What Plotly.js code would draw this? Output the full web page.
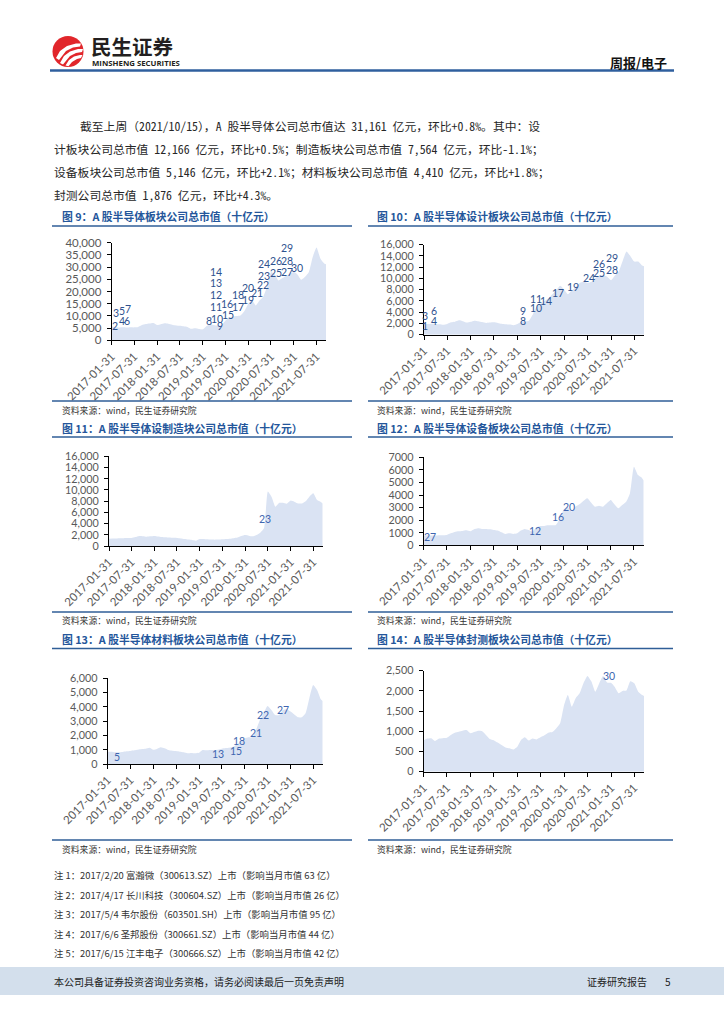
<!DOCTYPE html>
<html><head><meta charset="utf-8">
<script src="https://cdn.plot.ly/plotly-3.0.1.min.js"></script>
<style>html,body{margin:0;padding:0;background:#fff;} #page{width:724px;height:1024px;}</style>
</head><body><div id="page"></div>
<script>
// ---------- data ----------
const dates = [
 '2017-01-31','2017-02-28','2017-03-31','2017-04-30','2017-05-31','2017-06-30','2017-07-31','2017-08-31','2017-09-30','2017-10-31','2017-11-30','2017-12-31',
 '2018-01-31','2018-02-28','2018-03-31','2018-04-30','2018-05-31','2018-06-30','2018-07-31','2018-08-31','2018-09-30','2018-10-31','2018-11-30','2018-12-31',
 '2019-01-31','2019-02-28','2019-03-31','2019-04-30','2019-05-31','2019-06-30','2019-07-31','2019-08-31','2019-09-30','2019-10-31','2019-11-30','2019-12-31',
 '2020-01-31','2020-02-29','2020-03-31','2020-04-30','2020-05-31','2020-06-30','2020-07-31','2020-08-31','2020-09-30','2020-10-31','2020-11-30','2020-12-31',
 '2021-01-31','2021-02-28','2021-03-31','2021-04-30','2021-05-31','2021-06-30','2021-07-31','2021-08-31','2021-09-30','2021-10-15'];

const tickDates = ['2017-01-31','2017-07-31','2018-01-31','2018-07-31','2019-01-31','2019-07-31','2020-01-31','2020-07-31','2021-01-31','2021-07-31'];

const totalMV = [5800,5400,5200,5300,5200,5300,5300,5500,6300,6700,6900,7100,
 6300,6600,7000,6800,6400,6100,6000,5800,5500,4700,4900,4600,
 4500,5800,6500,6300,6000,6200,8000,9300,9800,10000,10200,12000,
 15000,16500,14300,16300,18000,22000,28000,27000,24500,25500,26500,27300,
 28000,27000,24800,26000,28000,34000,38000,33500,31500,31161];
const designMV = [2000,1900,1950,1900,1850,1750,1900,2200,2300,2550,2400,2150,
 2300,2500,2400,2250,2100,2150,2200,2100,1950,1850,1800,1700,
 1900,2250,2400,2500,3600,5000,5500,6000,6500,7200,7900,8700,
 8000,7200,7900,8500,9200,9400,9200,9400,10100,10500,10600,10300,
 9700,10500,11200,13000,14800,14000,13000,13000,12300,12166];
const mfgMV = [1300,1320,1350,1380,1400,1420,1430,1600,1800,1750,1670,1720,
 1800,1700,1600,1550,1500,1450,1430,1350,1250,1150,1070,950,
 1250,1250,1200,1150,1130,1150,1200,1250,1300,1400,1500,1800,
 1960,1850,1730,1960,2380,3150,9700,8700,7000,7700,7700,7550,
 8100,7900,7600,7600,8000,8800,9400,8200,7850,7564];
const equipMV = [740,800,780,770,790,800,820,950,1060,1110,1140,1190,
 1110,1270,1350,1300,1300,1270,1220,1170,1030,900,950,900,
 950,1170,1300,1220,1090,1430,1540,1540,1590,1590,1620,2150,
 2860,3020,2680,3070,3260,3520,3740,3390,3070,3150,3070,3340,
 3600,3260,2940,3200,3470,4150,6250,5590,5380,5146];
const materialMV = [860,860,820,820,840,890,910,960,1000,1050,1070,1140,
 1000,1050,1170,1100,980,930,910,860,820,750,770,750,
 790,980,960,980,980,1000,1070,1120,1140,1210,1380,1560,
 1800,1870,1870,2380,3080,3550,4060,3780,3430,3430,3780,3830,
 3670,3480,3270,3270,3550,4600,5530,5180,4530,4410];
const packMV = [780,820,830,760,820,830,840,910,965,990,1015,1030,
 950,980,1015,1005,910,810,780,720,660,600,580,550,
 620,780,850,770,820,800,850,900,965,980,1070,1200,
 1650,1900,1610,1820,1940,2190,2370,2230,1980,2190,2370,2210,
 2200,2100,1940,2000,2010,2240,2190,1980,1900,1876];

// note-number labels on each chart
const lab9Text  = ['1','2','3','5','7','4','6','8','10','9','11','12','13','14','15','16','17','18','19','20','21','22','23','24','25','26','27','28','29','30'];
const lab9Date  = ['2017-01-19','2017-02-26','2017-03-03','2017-04-24','2017-06-12','2017-04-24','2017-06-06','2019-03-18','2019-05-27','2019-06-21','2019-05-18','2019-05-18','2019-05-18','2019-05-18','2019-08-21','2019-08-15','2019-11-06','2019-11-06','2020-01-31','2020-01-31','2020-04-12','2020-05-28','2020-06-03','2020-06-03','2020-09-06','2020-09-06','2020-12-09','2020-12-09','2020-12-09','2021-02-28'];
const lab9Value = [6550,5870,11330,12150,12830,7920,8050,7920,8870,5870,13500,18430,23480,28120,10240,14880,13650,18430,16520,21290,19380,22800,26340,31120,27710,32490,27980,32620,37670,29620];

const lab10Text  = ['1','3','6','4','9','8','11','10','14','17','19','24','26','25','29','28'];
const lab10Date  = ['2017-02-09','2017-02-09','2017-04-21','2017-04-18','2019-03-12','2019-03-12','2019-06-21','2019-06-21','2019-09-12','2019-12-12','2020-04-12','2020-08-12','2020-10-27','2020-10-27','2021-02-04','2021-02-04'];
const lab10Value = [1540,3300,4270,2490,4270,2490,6280,4800,5990,7350,8530,10130,12500,10900,13700,11500];

const lab11Text = ['23'];
const lab11Date = ['2020-07-06'];
const lab11Value = [4760];

const lab12Text = ['27','12','16','20'];
const lab12Date = ['2017-03-22','2019-06-21','2019-12-15','2020-03-12'];
const lab12Value = [690,1170,2230,3070];

const lab13Text = ['5','13','15','18','21','22','27'];
const lab13Date = ['2017-04-18','2019-06-30','2019-11-21','2019-12-18','2020-04-30','2020-06-25','2020-11-30'];
const lab13Value = [510,700,910,1630,2150,3430,3780];

const lab14Text = ['30'];
const lab14Date = ['2021-01-12'];
const lab14Value = [2380];

// ---------- page ----------
const W = 724, H = 1024;
const px = x => x / W, py = y => 1 - y / H;
const CJK = '"Noto Sans CJK SC", "Noto Sans", sans-serif';
const BODY = '"Noto Sans Mono CJK SC", "Noto Sans CJK SC", sans-serif';
const NUM = 'Lato, Roboto, Arial, sans-serif';
const LABF = '"Liberation Sans Narrow", Lato, Roboto, Arial, sans-serif';
const BLUE = '#24569b', LINE = '#2f5e97', FILL = '#dae3f3';

const charts = [
 {s: totalMV,    t: lab9Text,  d: lab9Date,  v: lab9Value,  box: [111.7, 326, 242.7, 340.3], ymax: 40000, dtick: 5000, fmt: ',', fs: 11.5, lc: '#2F528F'},
 {s: designMV,   t: lab10Text, d: lab10Date, v: lab10Value, box: [424, 644, 244.7, 334.7],   ymax: 16000, dtick: 2000, fmt: ',', fs: 10.8, lc: '#2F528F'},
 {s: mfgMV,      t: lab11Text, d: lab11Date, v: lab11Value, box: [109, 322.7, 456.3, 546],   ymax: 16000, dtick: 2000, fmt: ',', fs: 10.8, lc: '#4066b0'},
 {s: equipMV,    t: lab12Text, d: lab12Date, v: lab12Value, box: [423.7, 643.7, 457.3, 545.3], ymax: 7000, dtick: 1000, fmt: 'd', fs: 10.8, lc: '#4066b0'},
 {s: materialMV, t: lab13Text, d: lab13Date, v: lab13Value, box: [107.7, 322.7, 678.3, 764], ymax: 6000, dtick: 1000, fmt: ',', fs: 10.8, lc: '#4066b0'},
 {s: packMV,     t: lab14Text, d: lab14Date, v: lab14Value, box: [423.7, 644, 670.7, 771.7], ymax: 2500, dtick: 500, fmt: ',', fs: 10.8, lc: '#4066b0'}
];

const traces = [];
const layout = {
  width: W, height: H, margin: {l: 0, r: 0, t: 0, b: 0},
  paper_bgcolor: '#fff', plot_bgcolor: 'rgba(0,0,0,0)', showlegend: false,
  annotations: [], shapes: []
};

charts.forEach((c, i) => {
  const n = i === 0 ? '' : String(i + 1);
  traces.push({
    type: 'scatter', mode: 'lines', x: dates, y: c.s,
    xaxis: 'x' + n, yaxis: 'y' + n,
    fill: 'tozeroy', fillcolor: FILL,
    line: {width: 0, color: FILL, shape: 'spline', smoothing: 0.5},
    hoverinfo: 'skip'
  });
  layout['xaxis' + n] = {
    domain: [px(c.box[0]), px(c.box[1])], anchor: 'y' + n, type: 'date',
    range: [dates[0], dates[dates.length - 1]],
    tickmode: 'array', tickvals: tickDates, ticktext: tickDates, tickangle: -45,
    ticks: 'outside', ticklen: 4, tickcolor: '#000', tickwidth: 1,
    showline: true, linecolor: '#000', linewidth: 1,
    showgrid: false, zeroline: false, fixedrange: true,
    tickfont: {family: NUM, size: 11.5, color: '#595959'}
  };
  layout['yaxis' + n] = {
    domain: [py(c.box[3]), py(c.box[2])], anchor: 'x' + n,
    range: [0, c.ymax], dtick: c.dtick, tick0: 0, tickformat: c.fmt,
    ticks: 'outside', ticklen: 4, tickcolor: '#000', tickwidth: 1,
    showline: true, linecolor: '#000', linewidth: 1, ticklabelstandoff: 3,
    showgrid: false, zeroline: false, fixedrange: true,
    tickfont: {family: NUM, size: c.fs, color: '#595959'}
  };
  c.t.forEach((txt, k) => {
    layout.annotations.push({
      xref: 'x' + n, yref: 'y' + n, x: c.d[k], y: c.v[k], text: txt,
      showarrow: false, xanchor: 'center', yanchor: 'middle',
      font: {family: LABF, size: 10.5, color: c.lc}
    });
  });
});

function txt(x, y, s, size, color, opts) {
  layout.annotations.push(Object.assign({
    xref: 'paper', yref: 'paper', x: px(x), y: py(y), text: s, showarrow: false,
    xanchor: 'left', yanchor: 'middle', font: {family: CJK, size: size, color: color}
  }, opts || {}));
}
function hline(x0, x1, y, w, color) {
  layout.shapes.push({type: 'line', xref: 'paper', yref: 'paper', x0: px(x0), x1: px(x1), y0: py(y), y1: py(y), line: {color: color, width: w}});
}
function pathPx(pts) {
  return 'M ' + pts.map(p => px(p[0]) + ' ' + py(p[1])).join(' L ') + ' Z';
}

// header logo
layout.shapes.push({type: 'circle', xref: 'paper', yref: 'paper', x0: px(52.5), x1: px(83.5), y0: py(67), y1: py(36), fillcolor: '#e1262b', line: {width: 0}});
[
  [[56,58],[60,51],[67,46],[76,43.5],[81,43.5],[80,46.5],[73,47.5],[66,51],[59,60]],
  [[60,63],[64,56],[70,51.5],[78,49],[83,49],[82,52],[76,53],[70,56],[63,64.5]],
  [[65.5,65.5],[69,60],[74,56.5],[80,55],[82.5,55],[81,58],[77,59],[72,62],[68.5,66.2]]
].forEach(p => layout.shapes.push({type: 'path', xref: 'paper', yref: 'paper', path: pathPx(p), fillcolor: '#fff', line: {width: 0}}));
txt(88.5, 46, '<b>民生证券</b>', 20.5, '#231f20');
txt(89.5, 62.5, '<b>MINSHENG SECURITIES</b>', 7.8, '#231f20', {font: {family: '"Open Sans", Arial, sans-serif', size: 7.8, color: '#231f20'}});
txt(669, 62, '<b>周报/电子</b>', 13, '#111', {xanchor: 'right'});
hline(50, 674, 70.5, 2.5, '#2f5f9e');

// paragraph
const para = [
  '截至上周（2021/10/15），A 股半导体公司总市值达 31,161 亿元，环比+0.8%。其中：设',
  '计板块公司总市值 12,166 亿元，环比+0.5%；制造板块公司总市值 7,564 亿元，环比-1.1%；',
  '设备板块公司总市值 5,146 亿元，环比+2.1%；材料板块公司总市值 4,410 亿元，环比+1.8%；',
  '封测公司总市值 1,876 亿元，环比+4.3%。'
];
[[78, 125], [52, 148], [52, 171], [52, 194]].forEach((p, k) => txt(p[0], p[1], para[k], 11.8, '#262626', {font: {family: BODY, size: 11.8, color: '#262626'}}));

// chart titles, rules, sources
const titles = [
  ['图 9：A 股半导体板块公司总市值（十亿元）', 60, 216],
  ['图 10：A 股半导体设计板块公司总市值（十亿元）', 375, 216],
  ['图 11：A 股半导体设制造块公司总市值（十亿元）', 60, 428],
  ['图 12：A 股半导体设备板块公司总市值（十亿元）', 375, 428],
  ['图 13：A 股半导体材料板块公司总市值（十亿元）', 60, 639],
  ['图 14：A 股半导体封测板块公司总市值（十亿元）', 375, 639]
];
titles.forEach(t => txt(t[1], t[2], '<b>' + t[0] + '</b>', 10.8, BLUE));
[226, 437, 648.5].forEach(y => { hline(52, 352, y, 1.6, LINE); hline(368, 673, y, 1.6, LINE); });
[401, 612, 840].forEach(y => { hline(52, 352, y, 1.6, LINE); hline(368, 673, y, 1.6, LINE); });
const src = '资料来源：wind，民生证券研究院';
[410, 620, 849].forEach(y => { txt(60, y, src, 8.8, '#333'); txt(375, y, src, 8.8, '#333'); });

// notes
const notes = [
  '注 1：2017/2/20 富瀚微（300613.SZ）上市（影响当月市值 63 亿）',
  '注 2：2017/4/17 长川科技（300604.SZ）上市（影响当月市值 26 亿）',
  '注 3：2017/5/4 韦尔股份（603501.SH）上市（影响当月市值 95 亿）',
  '注 4：2017/6/6 圣邦股份（300661.SZ）上市（影响当月市值 44 亿）',
  '注 5：2017/6/15 江丰电子（300666.SZ）上市（影响当月市值 42 亿）'
];
[875, 894.5, 914, 933.5, 953].forEach((y, k) => txt(52, y, notes[k], 9.4, '#333'));

// footer
layout.shapes.push({type: 'rect', xref: 'paper', yref: 'paper', x0: 0, x1: 1, y0: py(995), y1: py(967), fillcolor: '#d3dfec', line: {width: 0}, layer: 'below'});
txt(52, 981.5, '本公司具备证券投资咨询业务资格，请务必阅读最后一页免责声明', 10, '#222');
txt(585, 981.5, '证券研究报告', 10, '#222');
txt(668, 981.5, '5', 10, '#222', {xanchor: 'center'});

Plotly.newPlot('page', traces, layout, {staticPlot: true, displayModeBar: false});
</script>
</body></html>
